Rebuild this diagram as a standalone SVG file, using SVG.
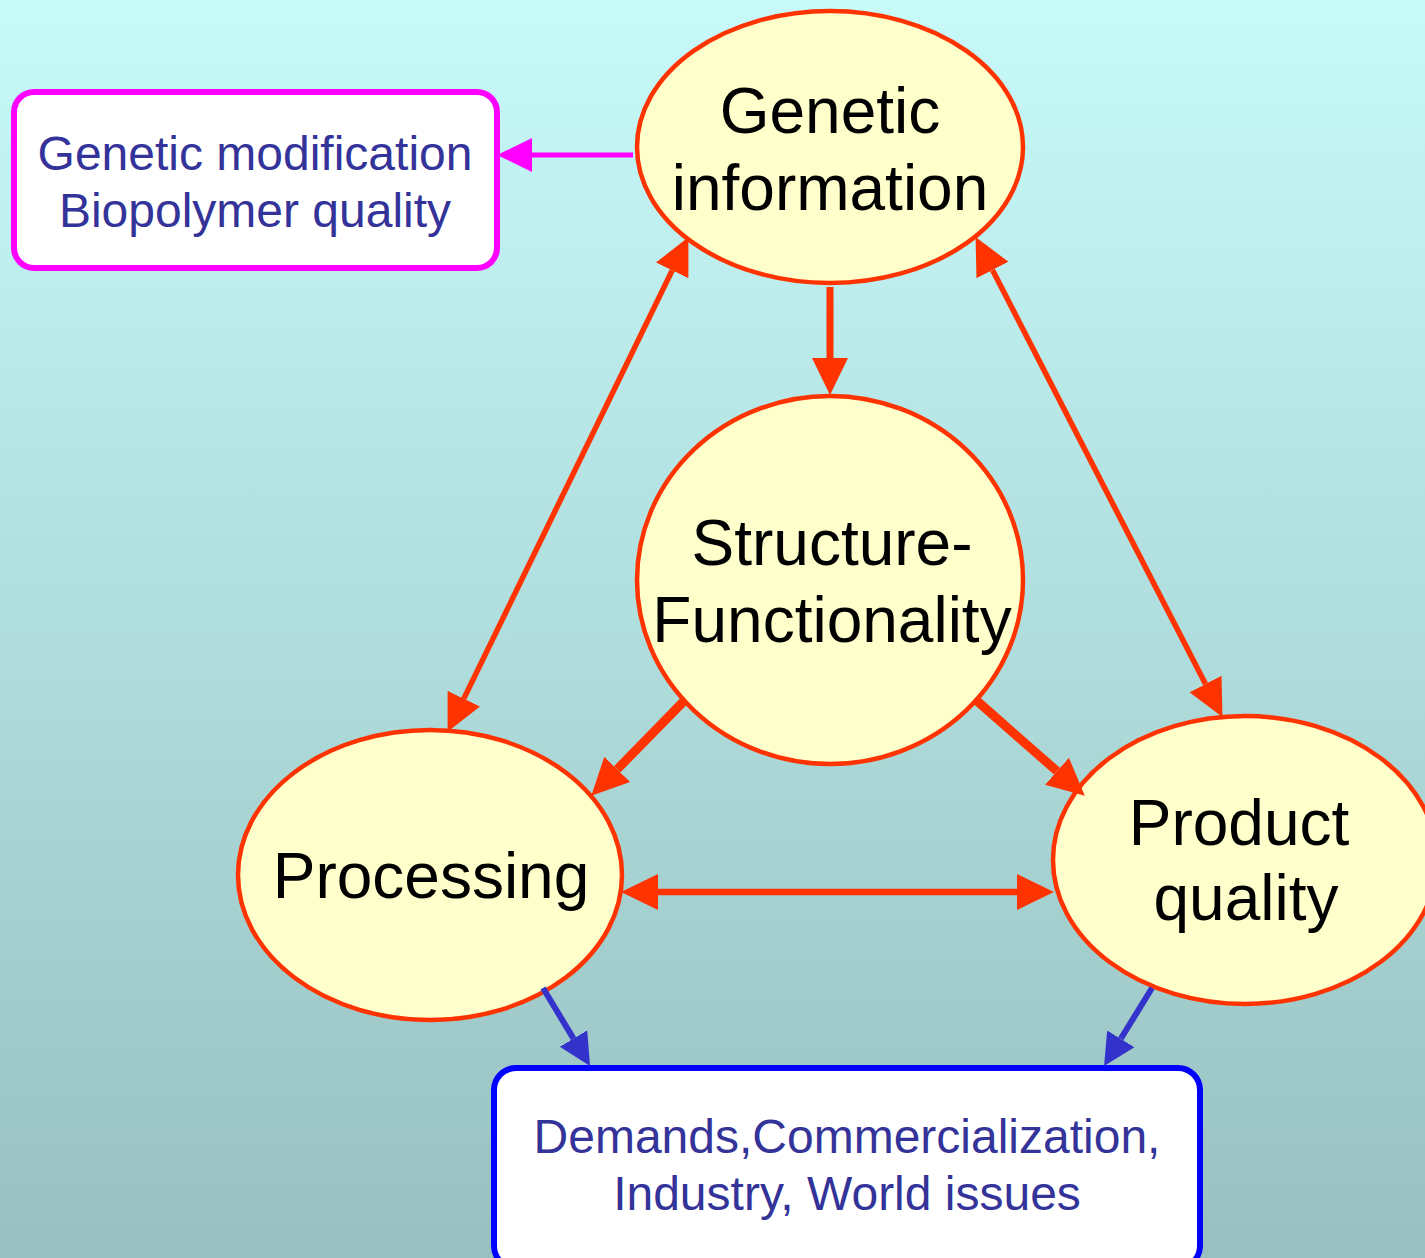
<svg xmlns="http://www.w3.org/2000/svg" width="1425" height="1258" viewBox="0 0 1425 1258">
<defs>
<linearGradient id="bg" x1="0" y1="0" x2="0" y2="1">
<stop offset="0" stop-color="#C8FAFA"/>
<stop offset="1" stop-color="#98C0C0"/>
</linearGradient>
<marker id="ahR" markerUnits="userSpaceOnUse" markerWidth="40" markerHeight="40" refX="0" refY="20" orient="auto-start-reverse" viewBox="0 0 40 40">
<path d="M0,2 L37,20 L0,38 z" fill="#FF3300"/>
</marker>
<marker id="ahB" markerUnits="userSpaceOnUse" markerWidth="34" markerHeight="34" refX="0" refY="17" orient="auto-start-reverse" viewBox="0 0 34 34">
<path d="M0,1 L32,17 L0,33 z" fill="#3333CC"/>
</marker>
<marker id="ahM" markerUnits="userSpaceOnUse" markerWidth="38" markerHeight="38" refX="0" refY="19" orient="auto-start-reverse" viewBox="0 0 38 38">
<path d="M0,2 L35,19 L0,36 z" fill="#FF00FF"/>
</marker>
</defs>
<style>
.ell{fill:#FFFFCC;stroke:#FF3300;stroke-width:4.5}
.big{font-family:"Liberation Sans",Arial,sans-serif;font-size:64px;fill:#000;text-anchor:middle}
.box{fill:#FFFFFF;stroke-width:6}
.small{font-family:"Liberation Sans",Arial,sans-serif;font-size:48px;fill:#333399;text-anchor:middle}
.red{stroke:#FF3300;fill:none}
</style>
<rect x="0" y="0" width="1425" height="1258" fill="url(#bg)"/>

<g id="genetic-information">
<ellipse class="ell" cx="830" cy="147" rx="193" ry="136"/>
<text class="big" x="830" y="133">Genetic</text>
<text class="big" x="830" y="210">information</text>
</g>

<g id="structure-functionality">
<ellipse class="ell" cx="830" cy="580" rx="193" ry="184"/>
<text class="big" x="832" y="565">Structure-</text>
<text class="big" x="832" y="642">Functionality</text>
</g>

<g id="processing">
<ellipse class="ell" cx="430" cy="875" rx="192" ry="145"/>
<text class="big" x="431" y="898">Processing</text>
</g>

<g id="product-quality">
<ellipse class="ell" cx="1245" cy="860" rx="192" ry="144"/>
<text class="big" x="1239" y="845">Product</text>
<text class="big" x="1246" y="920">quality</text>
</g>

<g id="genetic-modification-box">
<rect class="box" stroke="#FF00FF" x="14" y="92" width="483" height="176" rx="20"/>
<text class="small" x="255" y="170">Genetic modification</text>
<text class="small" x="255" y="227">Biopolymer quality</text>
</g>

<g id="demands-box">
<rect class="box" stroke="#0000FF" x="494" y="1068" width="706" height="200" rx="22"/>
<text class="small" x="847" y="1153">Demands,Commercialization,</text>
<text class="small" x="847" y="1210">Industry, World issues</text>
</g>

<g id="connectors">
<line class="red" stroke-width="7" x1="830" y1="287" x2="830" y2="358" marker-end="url(#ahR)"/>
<line class="red" stroke-width="5.5" x1="672.2" y1="270.4" x2="463.8" y2="698.6" marker-start="url(#ahR)" marker-end="url(#ahR)"/>
<line class="red" stroke-width="5.5" x1="992.5" y1="270.0" x2="1205.5" y2="684.0" marker-start="url(#ahR)" marker-end="url(#ahR)"/>
<line class="red" stroke-width="9" x1="685" y1="700" x2="617.2" y2="769.3" marker-end="url(#ahR)"/>
<line class="red" stroke-width="9" x1="976" y1="700" x2="1057" y2="771.2" marker-end="url(#ahR)"/>
<line class="red" stroke-width="6.5" x1="658" y1="892" x2="1017" y2="892" marker-start="url(#ahR)" marker-end="url(#ahR)"/>
<line stroke="#FF00FF" stroke-width="5" x1="633" y1="155" x2="532" y2="155" marker-end="url(#ahM)"/>
<line stroke="#3333CC" stroke-width="6" x1="543" y1="988" x2="573.5" y2="1038.6" marker-end="url(#ahB)"/>
<line stroke="#3333CC" stroke-width="6" x1="1152" y1="988" x2="1120.8" y2="1038.8" marker-end="url(#ahB)"/>
</g>
</svg>
